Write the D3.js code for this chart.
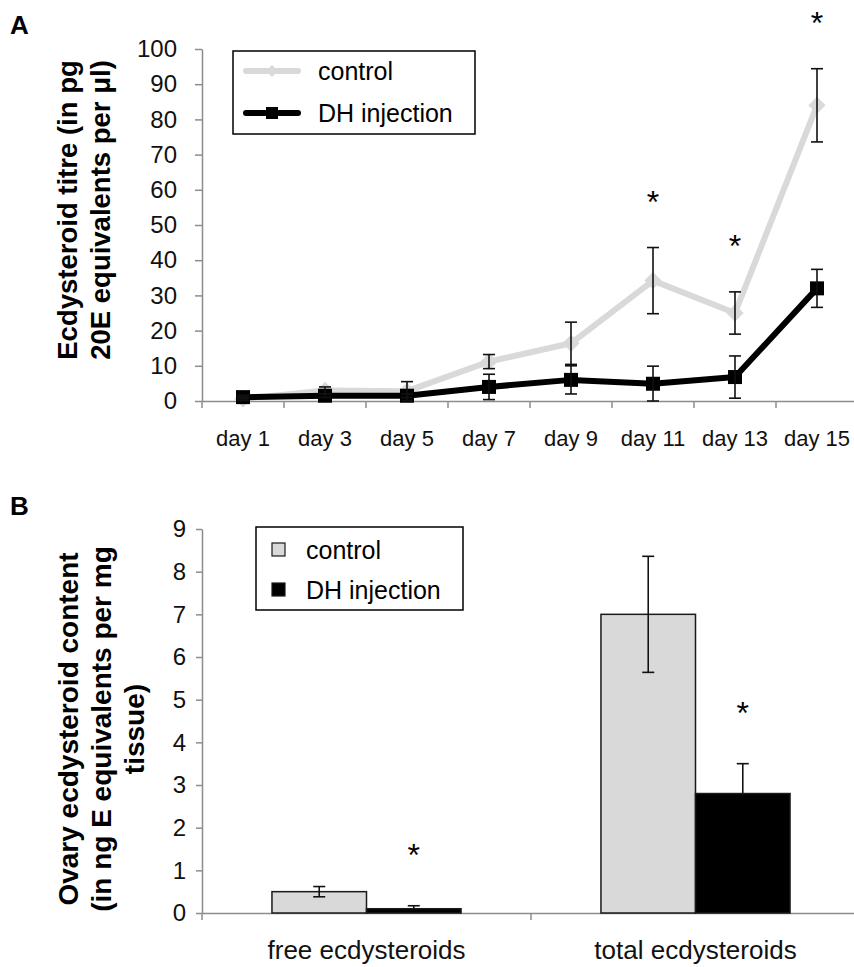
<!DOCTYPE html>
<html>
<head>
  <style>
    body { margin: 0; background: #fff; }
    svg { display: block; font-family: "Liberation Sans", Arial, sans-serif; }
    .axis path, .axis line { stroke: #8c8c8c; stroke-width: 1.5; }
    .axis text { fill: #111; }
  </style>
</head>
<body>
  <svg id="chart" width="854" height="967"></svg>
  <script src="https://d3js.org/d3.v7.min.js"></script>
  <script>
    // Panel A: haemolymph ecdysteroid titre
    const days = ["day 1", "day 3", "day 5", "day 7", "day 9", "day 11", "day 13", "day 15"];
    const controlTitre = [0.6, 3, 2.8, 11.2, 16.4, 34.2, 25, 84];
    const controlTitreErr = [0.5, 1, 2.7, 2, 6, 9.4, 6, 10.4];
    const dhTitre = [1.1, 1.5, 1.5, 4, 6, 4.9, 6.8, 32];
    const dhTitreErr = [0.5, 0.5, 0.5, 3.6, 4, 5, 6, 5.4];
    const titreSig = [false, false, false, false, false, true, true, true];
    const titreTicks = [0, 10, 20, 30, 40, 50, 60, 70, 80, 90, 100];

    // Panel B: ovary ecdysteroid content
    const groups = ["free ecdysteroids", "total ecdysteroids"];
    const ovaryControl = [0.5, 7.0];
    const ovaryControlErr = [0.12, 1.36];
    const ovaryDH = [0.1, 2.8];
    const ovaryDHErr = [0.07, 0.7];
    const ovarySig = [true, true];
    const ovaryTicks = [0, 1, 2, 3, 4, 5, 6, 7, 8, 9];

    const seriesNames = ["control", "DH injection"];
    const grey = "#d9d9d9";

    const svg = d3.select("#chart");

    // ---------- Panel A ----------
    const xA = d3.scaleBand().domain(days).range([202, 858]);
    const yA = d3.scaleLinear().domain([0, 100]).range([401, 49]);
    const cx = d => xA(d) + xA.bandwidth() / 2;

    svg.append("text").attr("x", 10).attr("y", 34)
      .style("font-size", "26px").style("font-weight", "bold").text("A");

    svg.append("g").attr("class", "axis")
      .attr("transform", "translate(202,0)")
      .call(d3.axisLeft(yA).tickValues(titreTicks).tickSize(7).tickPadding(18).tickSizeOuter(0))
      .selectAll("text").style("font-size", "24px");

    const xAxisA = svg.append("g").attr("class", "axis")
      .attr("transform", "translate(0,401)")
      .call(d3.axisBottom(xA).tickSize(0).tickPadding(29).tickSizeOuter(0));
    xAxisA.selectAll("text").style("font-size", "22px");
    // ticks at category boundaries
    xAxisA.selectAll(".bound").data(days).enter().append("line")
      .attr("class", "bound")
      .attr("x1", d => xA(d)).attr("x2", d => xA(d))
      .attr("y1", 0).attr("y2", 7)
      .attr("stroke", "#8c8c8c").attr("stroke-width", 1.5);

    const lineA = vals => d3.line().x((v, i) => cx(days[i])).y(v => yA(v))(vals);

    svg.append("path").attr("d", lineA(controlTitre))
      .attr("fill", "none").attr("stroke", grey).attr("stroke-width", 6)
      .attr("stroke-linejoin", "round");
    svg.selectAll(".diamond").data(controlTitre).enter().append("path")
      .attr("class", "diamond")
      .attr("d", d3.symbol().type(d3.symbolDiamond2).size(190))
      .attr("transform", (v, i) => `translate(${cx(days[i])},${yA(v)})`)
      .attr("fill", grey);

    svg.append("path").attr("d", lineA(dhTitre))
      .attr("fill", "none").attr("stroke", "#000").attr("stroke-width", 6)
      .attr("stroke-linejoin", "round");
    svg.selectAll(".square").data(dhTitre).enter().append("rect")
      .attr("class", "square")
      .attr("x", (v, i) => cx(days[i]) - 7).attr("y", v => yA(v) - 7)
      .attr("width", 14).attr("height", 14).attr("fill", "#000");

    function errorBars(g, xs, vals, errs, cap, upperOnly) {
      vals.forEach((v, i) => {
        const x = xs[i], top = g.yScale(v + errs[i]);
        const bot = upperOnly ? g.yScale(v) : g.yScale(Math.max(0, v - errs[i]));
        g.sel.append("line").attr("x1", x).attr("x2", x).attr("y1", top).attr("y2", bot);
        g.sel.append("line").attr("x1", x - cap).attr("x2", x + cap).attr("y1", top).attr("y2", top);
        if (!upperOnly) {
          g.sel.append("line").attr("x1", x - cap).attr("x2", x + cap).attr("y1", bot).attr("y2", bot);
        }
      });
    }
    const errA = svg.append("g").attr("stroke", "#111").attr("stroke-width", 1.6);
    errorBars({ sel: errA, yScale: yA }, days.map(cx), controlTitre, controlTitreErr, 6, false);
    errorBars({ sel: errA, yScale: yA }, days.map(cx), dhTitre, dhTitreErr, 6, false);

    // significance marks
    svg.selectAll(".sigA").data(days.filter((d, i) => titreSig[i])).enter().append("text")
      .attr("class", "sigA")
      .attr("x", d => cx(d))
      .attr("y", d => { const i = days.indexOf(d); return yA(controlTitre[i] + controlTitreErr[i]) - 53 + 18; })
      .attr("text-anchor", "middle").style("font-size", "32px").text("*");

    // legend A
    const legA = svg.append("g");
    legA.append("rect").attr("x", 233).attr("y", 51).attr("width", 242).attr("height", 83)
      .attr("fill", "#fff").attr("stroke", "#000").attr("stroke-width", 1.5);
    [71, 113].forEach((yy, k) => {
      legA.append("line").attr("x1", 246).attr("x2", 298).attr("y1", yy).attr("y2", yy)
        .attr("stroke", k === 0 ? grey : "#000").attr("stroke-width", 6).attr("stroke-linecap", "round");
      if (k === 0) {
        legA.append("path").attr("d", d3.symbol().type(d3.symbolDiamond2).size(90))
          .attr("transform", `translate(272,${yy})`).attr("fill", grey);
      } else {
        legA.append("rect").attr("x", 266).attr("y", yy - 6).attr("width", 12).attr("height", 12).attr("fill", "#000");
      }
      legA.append("text").attr("x", 318).attr("y", yy + 9).style("font-size", "25px").text(seriesNames[k]);
    });

    // y title A
    const titleA = svg.append("text")
      .attr("transform", "translate(0,210) rotate(-90)")
      .attr("text-anchor", "middle").style("font-size", "27.5px").style("font-weight", "bold");
    titleA.append("tspan").attr("x", 0).attr("y", 77).text("Ecdysteroid titre (in pg");
    titleA.append("tspan").attr("x", 0).attr("y", 110).text("20E equivalents per \u03bcl)");

    // ---------- Panel B ----------
    const xB = d3.scaleBand().domain(groups).range([202, 860]);
    const xB1 = d3.scaleBand().domain(seriesNames).range([0, xB.bandwidth()]).paddingInner(0).paddingOuter(0.74);
    const yB = d3.scaleLinear().domain([0, 9]).range([913, 529]);

    svg.append("text").attr("x", 10).attr("y", 515)
      .style("font-size", "26px").style("font-weight", "bold").text("B");

    svg.append("g").attr("class", "axis")
      .attr("transform", "translate(202,0)")
      .call(d3.axisLeft(yB).tickValues(ovaryTicks).tickSize(6).tickPadding(10).tickSizeOuter(0))
      .selectAll("text").style("font-size", "24px");

    const xAxisB = svg.append("g").attr("class", "axis")
      .attr("transform", "translate(0,913)")
      .call(d3.axisBottom(xB).tickSize(0).tickPadding(28).tickSizeOuter(0));
    xAxisB.selectAll("text").style("font-size", "26px");
    xAxisB.selectAll(".bound").data(groups).enter().append("line")
      .attr("class", "bound")
      .attr("x1", d => xB(d)).attr("x2", d => xB(d))
      .attr("y1", 0).attr("y2", 7)
      .attr("stroke", "#8c8c8c").attr("stroke-width", 1.5);

    const bars = [
      { name: "control", vals: ovaryControl, errs: ovaryControlErr, fill: grey, upperOnly: false },
      { name: "DH injection", vals: ovaryDH, errs: ovaryDHErr, fill: "#000", upperOnly: true }
    ];
    bars.forEach(s => {
      svg.append("g").selectAll("rect").data(groups).enter().append("rect")
        .attr("x", (g) => xB(g) + xB1(s.name))
        .attr("y", (g, i) => yB(s.vals[i]))
        .attr("width", xB1.bandwidth())
        .attr("height", (g, i) => yB(0) - yB(s.vals[i]))
        .attr("fill", s.fill).attr("stroke", "#1a1a1a").attr("stroke-width", 1.5);
    });
    const errB = svg.append("g").attr("stroke", "#111").attr("stroke-width", 1.6);
    bars.forEach(s => {
      errorBars({ sel: errB, yScale: yB }, groups.map(g => xB(g) + xB1(s.name) + xB1.bandwidth() / 2), s.vals, s.errs, 6, s.upperOnly);
    });

    svg.selectAll(".sigB").data(groups.filter((g, i) => ovarySig[i])).enter().append("text")
      .attr("class", "sigB")
      .attr("x", g => xB(g) + xB1("DH injection") + xB1.bandwidth() / 2)
      .attr("y", g => { const i = groups.indexOf(g); return yB(ovaryDH[i] + ovaryDHErr[i]) - 58 + 18; })
      .attr("text-anchor", "middle").style("font-size", "32px").text("*");

    // legend B
    const legB = svg.append("g");
    legB.append("rect").attr("x", 256).attr("y", 527).attr("width", 207).attr("height", 83)
      .attr("fill", "#fff").attr("stroke", "#000").attr("stroke-width", 1.5);
    [550, 590].forEach((yy, k) => {
      legB.append("rect").attr("x", 272).attr("y", yy - 7).attr("width", 13).attr("height", 13)
        .attr("fill", bars[k].fill).attr("stroke", "#1a1a1a").attr("stroke-width", 1.2);
      legB.append("text").attr("x", 306).attr("y", yy + 9).style("font-size", "25px").text(seriesNames[k]);
    });

    // y title B
    const titleB = svg.append("text")
      .attr("transform", "translate(0,729) rotate(-90)")
      .attr("text-anchor", "middle").style("font-size", "28px").style("font-weight", "bold");
    titleB.append("tspan").attr("x", 0).attr("y", 78).text("Ovary ecdysteroid content");
    titleB.append("tspan").attr("x", 0).attr("y", 111).text("(in ng E equivalents per mg");
    titleB.append("tspan").attr("x", 0).attr("y", 144).text("tissue)");
  </script>
</body>
</html>
